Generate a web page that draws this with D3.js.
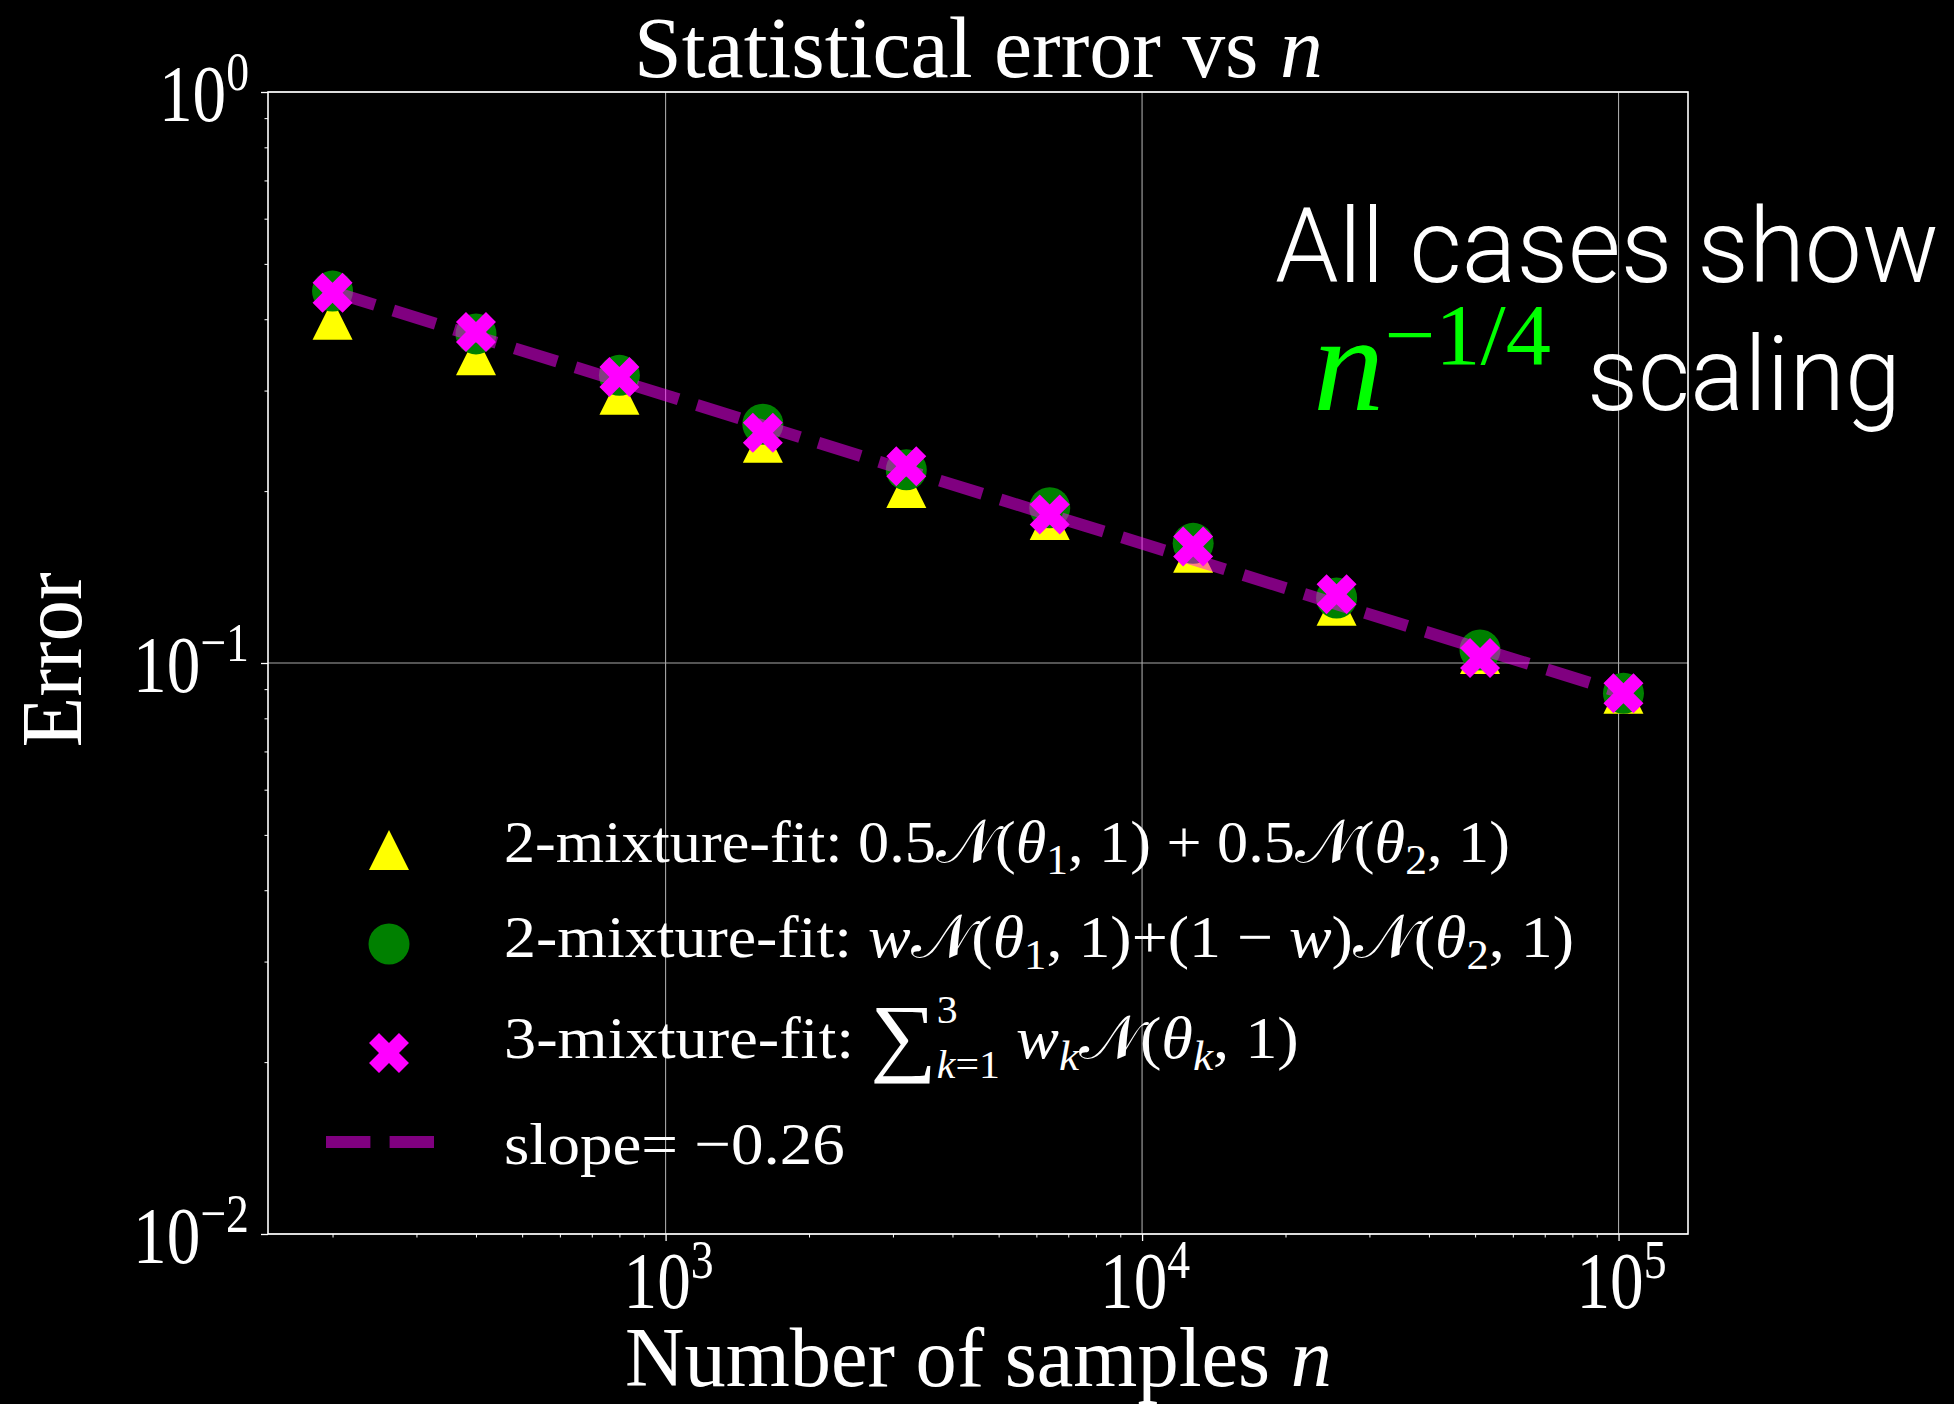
<!DOCTYPE html>
<html>
<head>
<meta charset="utf-8">
<script src="https://cdn.jsdelivr.net/npm/d3@7"></script>
<style>
  html, body { margin: 0; background: #000; }
  svg { display: block; }
</style>
</head>
<body>
<script>
'use strict';

// data
const sampleSizes = [200, 400, 800, 1600, 3200, 6400, 12800, 25600, 51200, 102400];
const errFixedWeights = [0.399, 0.346, 0.295, 0.243, 0.2025, 0.178, 0.156, 0.126, 0.1037, 0.0883];
const errFreeWeights = [0.448, 0.377, 0.319, 0.262, 0.218, 0.187, 0.162, 0.130, 0.1054, 0.0885];
const errThreeMix = [0.445, 0.380, 0.317, 0.253, 0.221, 0.182, 0.160, 0.132, 0.102, 0.0885];
const fitSizes = [200, 102400];
const fitValues = [0.447, 0.0885];
const slopeText = '−0.26';
const xTickValues = [1e3, 1e4, 1e5];
const yTickValues = [1e-2, 1e-1, 1e0];

const serif = '"Liberation Serif", "DejaVu Serif", serif';
const sans = 'Roboto, "Open Sans", sans-serif';

const plot = {left: 268, right: 1688, top: 92, bottom: 1234};

const svg = d3.select('body').append('svg')
    .attr('width', 1954)
    .attr('height', 1404);

svg.append('rect')
    .attr('width', 1954)
    .attr('height', 1404)
    .attr('fill', '#000');

// matplotlib style 5% margin in log space
const lx = d3.extent(sampleSizes).map(Math.log10);
const pad = (lx[1] - lx[0]) * 0.05;
const xScale = d3.scaleLog()
    .domain([Math.pow(10, lx[0] - pad), Math.pow(10, lx[1] + pad)])
    .range([plot.left, plot.right]);
const yScale = d3.scaleLog()
    .domain([1e-2, 1e0])
    .range([plot.bottom, plot.top]);

// ---------- text helpers ----------
function richText(g, parts, opts) {
  const size = opts.size;
  const t = g.append('text')
      .attr('x', 0)
      .attr('y', opts.y)
      .attr('fill', opts.color || '#fff')
      .attr('font-family', opts.family || serif)
      .attr('font-weight', opts.weight || 400)
      .attr('font-size', size);
  let cur = 0;
  let prev = null;
  parts.forEach((p) => {
    const raise = p.raise || 0;
    const ts = t.append('tspan')
        .attr('dy', -(raise - cur) * size)
        .attr('font-size', (p.scale || 1) * size)
        .text(p.t);
    if (p.it) ts.attr('font-style', 'italic');
    if (p.family) ts.attr('font-family', p.family);
    if (p.back && prev) ts.attr('dx', -prev.node().getComputedTextLength());
    cur = raise;
    prev = ts;
  });
  return t;
}

function fitX(t, x0, x1) {
  const bb = t.node().getBBox();
  const sx = (x1 - x0) / bb.width;
  t.attr('transform', 'translate(' + (x0 - bb.x * sx) + ',0) scale(' + sx + ',1)');
}

function squeeze(t, sx, anchorX, mode) {
  const bb = t.node().getBBox();
  const w = bb.width * sx;
  const x0 = mode === 'end' ? anchorX - w : anchorX - w / 2;
  fitX(t, x0, x0 + w);
}

function expLabel(v) {
  const e = Math.round(Math.log10(v));
  return e < 0 ? '−' + (-e) : String(e);
}

// ---------- grid ----------
const grid = svg.append('g').attr('stroke', '#a8a8a8').attr('stroke-width', 1.1);
grid.selectAll('line.gx')
  .data(xTickValues)
  .join('line')
    .attr('x1', d => xScale(d)).attr('x2', d => xScale(d))
    .attr('y1', plot.top).attr('y2', plot.bottom);
grid.selectAll('line.gy')
  .data(yTickValues)
  .join('line')
    .attr('y1', d => yScale(d)).attr('y2', d => yScale(d))
    .attr('x1', plot.left).attr('x2', plot.right);

// ---------- axes ----------
const xMinor = [];
const yMinor = [];
[100, 1000, 10000].forEach(b => d3.range(2, 10).forEach(k => {
  const v = b * k;
  if (v > xScale.domain()[0] && v < xScale.domain()[1]) xMinor.push(v);
}));
[1e-2, 1e-1].forEach(b => d3.range(2, 10).forEach(k => yMinor.push(b * k)));

svg.append('g')
    .attr('transform', 'translate(0,' + plot.bottom + ')')
    .call(d3.axisBottom(xScale).tickValues(xTickValues).tickSize(7).tickFormat(''))
    .call(g => g.select('.domain').remove())
    .call(g => g.selectAll('line').attr('stroke', '#fff').attr('stroke-width', 1.3));
svg.append('g')
    .attr('transform', 'translate(0,' + plot.bottom + ')')
    .call(d3.axisBottom(xScale).tickValues(xMinor).tickSize(3.5).tickFormat(''))
    .call(g => g.select('.domain').remove())
    .call(g => g.selectAll('line').attr('stroke', '#fff').attr('stroke-width', 1));
svg.append('g')
    .attr('transform', 'translate(' + plot.left + ',0)')
    .call(d3.axisLeft(yScale).tickValues(yTickValues).tickSize(7).tickFormat(''))
    .call(g => g.select('.domain').remove())
    .call(g => g.selectAll('line').attr('stroke', '#fff').attr('stroke-width', 1.3));
svg.append('g')
    .attr('transform', 'translate(' + plot.left + ',0)')
    .call(d3.axisLeft(yScale).tickValues(yMinor).tickSize(3.5).tickFormat(''))
    .call(g => g.select('.domain').remove())
    .call(g => g.selectAll('line').attr('stroke', '#fff').attr('stroke-width', 1));

svg.append('rect')
    .attr('x', plot.left).attr('y', plot.top)
    .attr('width', plot.right - plot.left)
    .attr('height', plot.bottom - plot.top)
    .attr('fill', 'none')
    .attr('stroke', '#fff')
    .attr('stroke-width', 1.6);

// tick labels
yTickValues.forEach((v) => {
  const t = richText(svg, [{t: '10'}, {t: expLabel(v), raise: 0.38, scale: 0.68}],
      {size: 81, y: yScale(v) + 29});
  squeeze(t, 0.83, 249, 'end');
});
xTickValues.forEach((v) => {
  const t = richText(svg, [{t: '10'}, {t: expLabel(v), raise: 0.37, scale: 0.68}],
      {size: 81, y: plot.bottom + 74});
  squeeze(t, 0.83, xScale(v) + 3, 'middle');
});

// ---------- markers ----------
const S = 40;
function triPath(s) {
  return 'M0,' + (-s / 2) + 'L' + (-s / 2) + ',' + (s / 2) + 'L' + (s / 2) + ',' + (s / 2) + 'Z';
}
function crossPath(s) {
  const k = s / 0.943;
  const plus = [[-1, -3], [1, -3], [1, -1], [3, -1], [3, 1], [1, 1],
    [1, 3], [-1, 3], [-1, 1], [-3, 1], [-3, -1], [-1, -1]];
  const c = Math.SQRT1_2;
  return 'M' + plus.map(([a, b]) => {
    const px = (a / 6) * k;
    const py = (b / 6) * k;
    return [(px - py) * c, (px + py) * c].join(',');
  }).join('L') + 'Z';
}

const pts = (vals) => sampleSizes.map((n, i) => ({n, v: vals[i]}));

svg.append('g').selectAll('path')
  .data(pts(errFixedWeights))
  .join('path')
    .attr('transform', d => 'translate(' + xScale(d.n) + ',' + yScale(d.v) + ')')
    .attr('d', triPath(S))
    .attr('fill', '#ffff00');

svg.append('g').selectAll('circle')
  .data(pts(errFreeWeights))
  .join('circle')
    .attr('cx', d => xScale(d.n))
    .attr('cy', d => yScale(d.v))
    .attr('r', S / 2 + 0.5)
    .attr('fill', '#008000');

svg.append('g').selectAll('path')
  .data(pts(errThreeMix))
  .join('path')
    .attr('transform', d => 'translate(' + xScale(d.n) + ',' + yScale(d.v) + ')')
    .attr('d', crossPath(S))
    .attr('fill', '#ff00ff');

const fitLine = d3.line()
    .x(d => xScale(d.n))
    .y(d => yScale(d.v));
svg.append('path')
    .datum(fitSizes.map((n, i) => ({n, v: fitValues[i]})))
    .attr('d', fitLine)
    .attr('fill', 'none')
    .attr('stroke', '#ff00ff')
    .attr('stroke-opacity', 0.5)
    .attr('stroke-width', 12)
    .attr('stroke-dasharray', '44.4,19.2');

// ---------- titles ----------
fitX(richText(svg, [{t: 'Statistical error vs '}, {t: 'n', it: true}], {size: 86, y: 77}), 634, 1323);
fitX(richText(svg, [{t: 'Number of samples '}, {t: 'n', it: true}], {size: 84, y: 1386}), 625, 1332);

svg.append('text')
    .attr('transform', 'translate(81,660) rotate(-90)')
    .attr('text-anchor', 'middle')
    .attr('fill', '#fff')
    .attr('font-family', serif)
    .attr('font-size', 86)
    .attr('textLength', 175)
    .attr('lengthAdjust', 'spacingAndGlyphs')
    .text('Error');

// ---------- legend ----------
const NN = '𝒩';
const sub = (t, it) => ({t, raise: -0.2, scale: 0.7, it});
const legendFixed = [{t: '2-mixture-fit:  0.5'}, {t: NN}, {t: '('}, {t: 'θ', it: true}, sub('1'),
  {t: ', 1) + 0.5'}, {t: NN}, {t: '('}, {t: 'θ', it: true}, sub('2'), {t: ', 1)'}];
const legendFree = [{t: '2-mixture-fit:  '}, {t: 'w', it: true}, {t: NN}, {t: '('}, {t: 'θ', it: true},
  sub('1'), {t: ', 1)+(1 − '}, {t: 'w', it: true}, {t: ')'}, {t: NN}, {t: '('}, {t: 'θ', it: true},
  sub('2'), {t: ', 1)'}];
const legendThree = [{t: '3-mixture-fit:  '}, {t: '∑', scale: 1.45, raise: -0.12},
  {t: '3', raise: 0.58, scale: 0.65}, {t: 'k', it: true, raise: -0.34, scale: 0.65, back: true},
  {t: '=1', raise: -0.34, scale: 0.65}, {t: ' '}, {t: 'w', it: true}, sub('k', true), {t: NN},
  {t: '('}, {t: 'θ', it: true}, sub('k', true), {t: ', 1)'}];
const legendFit = [{t: 'slope= ' + slopeText}];

const legendRows = [
  {parts: legendFixed, y: 862, x1: 1510, my: 850, mark: 'tri'},
  {parts: legendFree, y: 957, x1: 1574, my: 944, mark: 'circ'},
  {parts: legendThree, y: 1058, x1: 1299, my: 1053, mark: 'cross'},
  {parts: legendFit, y: 1164, x1: 845, my: 1142, mark: 'line'},
];
const legend = svg.append('g');
legendRows.forEach((r) => {
  fitX(richText(legend, r.parts, {size: 60, y: r.y}), 504, r.x1);
  if (r.mark === 'tri') {
    legend.append('path').attr('transform', 'translate(389,' + r.my + ')')
        .attr('d', triPath(S)).attr('fill', '#ffff00');
  } else if (r.mark === 'circ') {
    legend.append('circle').attr('cx', 389).attr('cy', r.my).attr('r', S / 2 + 0.5)
        .attr('fill', '#008000');
  } else if (r.mark === 'cross') {
    legend.append('path').attr('transform', 'translate(389,' + r.my + ')')
        .attr('d', crossPath(S)).attr('fill', '#ff00ff');
  } else {
    legend.append('line').attr('x1', 326).attr('x2', 453).attr('y1', r.my).attr('y2', r.my)
        .attr('stroke', '#ff00ff').attr('stroke-opacity', 0.5).attr('stroke-width', 12)
        .attr('stroke-dasharray', '44.4,19.2');
  }
});

// ---------- annotation ----------
fitX(richText(svg, [{t: 'All cases show'}], {size: 103, y: 282, family: sans, weight: 300}), 1275, 1939);
fitX(richText(svg, [{t: 'n', it: true}, {t: '−1/4', raise: 0.336, scale: 0.635}],
    {size: 137, y: 410, color: '#00ff00'}), 1313, 1551);
fitX(richText(svg, [{t: 'scaling'}], {size: 103, y: 410, family: sans, weight: 300}), 1587, 1901);
</script>
</body>
</html>
